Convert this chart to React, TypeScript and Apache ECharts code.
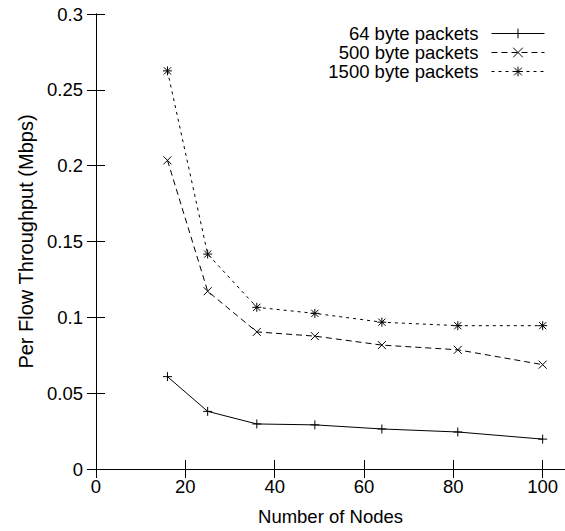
import React, { useEffect, useRef } from "react";
import * as echarts from "echarts";

const nodes = [16, 25, 36, 49, 64, 81, 100];
const seriesNames = ["64 byte packets", "500 byte packets", "1500 byte packets"];
const tp64 = [0.0609, 0.038, 0.0297, 0.0291, 0.0264, 0.0244, 0.0197];
const tp500 = [0.2035, 0.1172, 0.0904, 0.0876, 0.0817, 0.0786, 0.0688];
const tp1500 = [0.2625, 0.1417, 0.1066, 0.1026, 0.0968, 0.0945, 0.0945];
const xTicks = { min: 0, max: 105, interval: 20 };
const yTicks = { min: 0, max: 0.3, interval: 0.05 };

const FONT = "'Liberation Sans', Arial, Helvetica, sans-serif";
const FS = 18.5;
const plusSym = "path://M0,5L10,5M5,0L5,10";
const crossSym = "path://M0,0L10,10M10,0L0,10";
const starSym = "path://M0,5L10,5M5,0L5,10M1,1L9,9M9,1L1,9";

export default function App() {
  const ref = useRef<HTMLDivElement>(null);
  useEffect(() => {
    if (!ref.current) return;
    const chart = echarts.init(ref.current, null, { renderer: "svg" });
    const axisLine = { show: true, lineStyle: { color: "#000", width: 1 } };
    const tick = { show: true, inside: true, length: 9, lineStyle: { color: "#000", width: 1 } };
    const mk = (name: string, data: number[], sym: string, size: number, type: any) => ({
      name,
      type: "line",
      data: nodes.map((n, i) => [n, data[i]]),
      symbol: sym,
      symbolSize: size,
      showSymbol: true,
      lineStyle: { color: "#000", width: 1, type },
      itemStyle: { color: "#000", borderColor: "#000", borderWidth: 1 },
      emphasis: { disabled: true },
    });
    chart.setOption({
      animation: false,
      backgroundColor: "#fff",
      textStyle: { fontFamily: FONT },
      grid: { left: 96, top: 14, bottom: 58, right: -4 },
      legend: {
        orient: "vertical",
        right: 15,
        top: 19,
        align: "right",
        itemWidth: 53,
        itemHeight: 12,
        itemGap: 0,
        lineStyle: { width: 1 },
        itemStyle: { borderWidth: 1 },
        textStyle: { fontSize: FS, lineHeight: 18.5, fontFamily: FONT, color: "#000", padding: [0, 8, 0, 0] },
        data: seriesNames,
      },
      xAxis: [
        {
          type: "value",
          ...xTicks,
          position: "bottom",
          axisLine,
          axisTick: tick,
          splitLine: { show: false },
          axisLabel: { color: "#000", fontSize: FS, fontFamily: FONT, margin: 8, showMaxLabel: false },
          name: "Number of Nodes",
          nameLocation: "middle",
          nameGap: 38,
          nameTextStyle: { color: "#000", fontSize: FS, fontFamily: FONT },
        },
        {
          type: "value",
          ...xTicks,
          position: "top",
          axisLine,
          axisTick: tick,
          splitLine: { show: false },
          axisLabel: { show: false },
        },
      ],
      yAxis: [
        {
          type: "value",
          ...yTicks,
          position: "left",
          axisLine,
          axisTick: tick,
          splitLine: { show: false },
          axisLabel: {
            color: "#000",
            fontSize: FS,
            fontFamily: FONT,
            margin: 13,
            formatter: (v: number) => String(+v.toFixed(2)),
          },
          name: "Per Flow Throughput (Mbps)",
          nameLocation: "middle",
          nameGap: 56,
          nameTextStyle: { color: "#000", fontSize: 20, fontFamily: FONT },
        },
        {
          type: "value",
          ...yTicks,
          position: "right",
          axisLine,
          axisTick: tick,
          splitLine: { show: false },
          axisLabel: { show: false },
        },
      ],
      series: [
        mk(seriesNames[0], tp64, plusSym, 9, "solid"),
        mk(seriesNames[1], tp500, crossSym, 8, [6, 4]),
        mk(seriesNames[2], tp1500, starSym, 9, [3, 4]),
      ],
    });
    return () => chart.dispose();
  }, []);
  return (
    <div style={{ position: "fixed", left: 0, top: 0, width: 565, height: 531, overflow: "hidden", background: "#fff" }}>
      <div ref={ref} style={{ width: 565, height: 531 }} />
    </div>
  );
}
